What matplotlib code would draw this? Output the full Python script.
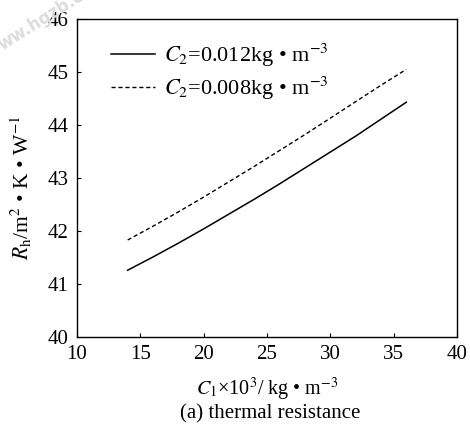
import matplotlib
matplotlib.use("Agg")
import matplotlib.pyplot as plt

plt.rcParams['font.family'] = ['Liberation Serif', 'DejaVu Serif']
plt.rcParams['mathtext.fontset'] = 'stix'

# C1 x 10^3 (kg/m3)
c1 = [14, 16, 18, 20, 22, 24, 26, 28, 30, 32, 34, 36]
# thermal resistance for two C2 values
rh_012 = [41.26, 41.51, 41.77, 42.04, 42.32, 42.60, 42.89, 43.19, 43.49, 43.79, 44.11, 44.43]
rh_008 = [41.83, 42.09, 42.36, 42.64, 42.93, 43.22, 43.52, 43.82, 44.13, 44.44, 44.75, 45.05]

xticks = [10, 15, 20, 25, 30, 35, 40]
yticks = [40, 41, 42, 43, 44, 45, 46]

fig = plt.figure(figsize=(4.7, 4.32), dpi=100)
ax = fig.add_axes([0.1638, 0.2199, 0.8085, 0.7361])

ax.plot(c1, rh_012, color='black', lw=1.1, label=r'$C_2$=0.012kg • m$^{-3}$')
ax.plot(c1, rh_008, color='black', lw=1.0, linestyle=(0, (3, 2)),
        label=r'$C_2$=0.008kg • m$^{-3}$')

ax.set_xlim(10, 40)
ax.set_ylim(40, 46)
ax.set_xticks(xticks)
ax.set_yticks(yticks)
ax.tick_params(direction='in', length=3, width=0.8, labelsize=15)
ax.tick_params(axis='y', pad=6)
ax.tick_params(axis='x', pad=6)
for s in ax.spines.values():
    s.set_linewidth(1.0)

ax.set_xlabel(r'$C_1$×10$^3$/ kg • m$^{-3}$', fontsize=14.5, labelpad=8)
ax.set_ylabel(r'$R_\mathrm{h}$/m$^2$ • K • W$^{-1}$', fontsize=15.5)
ax.yaxis.set_label_coords(-0.114, 0.47)

leg = ax.legend(loc='upper left', frameon=False, fontsize=16,
                handlelength=2.0, handletextpad=0.4, labelspacing=0.25,
                borderaxespad=0.0, bbox_to_anchor=(0.065, 0.955))

fig.text(0.575, 0.042, '(a) thermal resistance', ha='center', va='center', fontsize=15)

# faint watermark in the top left corner
fig.text(-0.01, 0.875, 'ww.hgzb.c', rotation=32, color='#dcdcdc', fontsize=12,
         fontweight='bold', family='DejaVu Sans', ha='left', va='bottom')

fig.savefig('out.png', dpi=100)
